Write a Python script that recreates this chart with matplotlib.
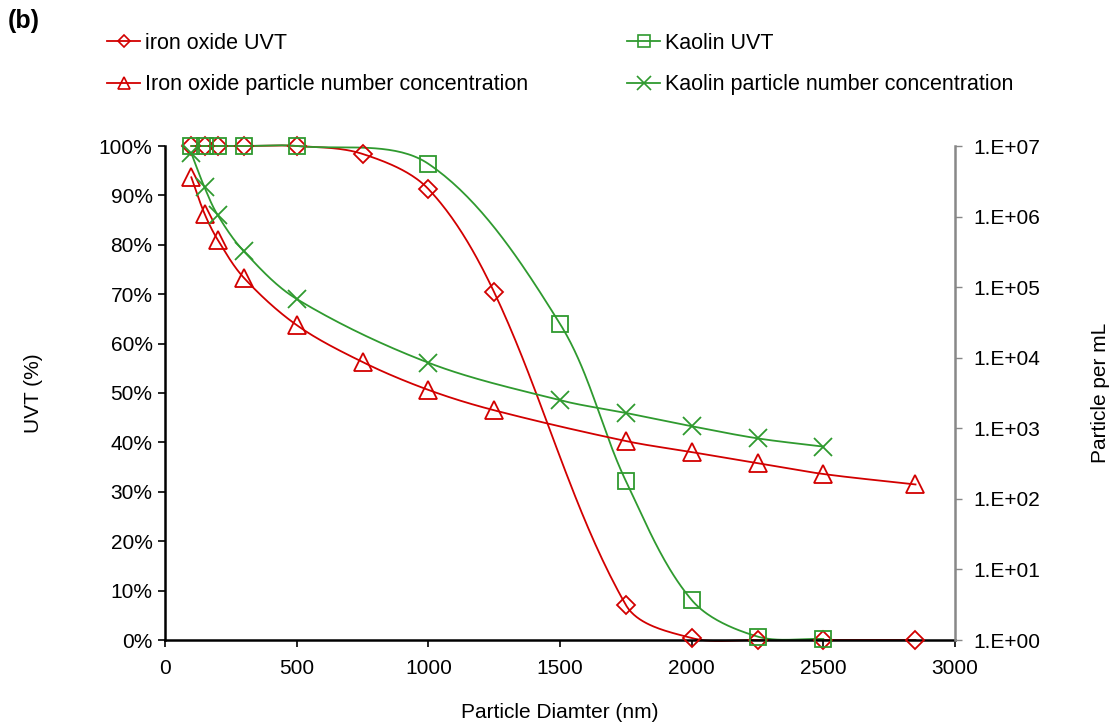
import matplotlib
matplotlib.use("Agg")
import matplotlib.pyplot as plt
import numpy as np
from matplotlib.lines import Line2D
from matplotlib.ticker import FuncFormatter, FixedLocator, NullLocator

# particle diameters (nm)
iron_uvt_diam = [100, 150, 200, 300, 500, 750, 1000, 1250, 1750, 2000, 2250, 2500, 2850]
iron_uvt = [100, 100, 100, 100, 100, 98.4, 91.3, 70.4, 7.1, 0.4, 0, 0, 0]

kaolin_uvt_diam = [100, 150, 200, 300, 500, 1000, 1500, 1750, 2000, 2250, 2500]
kaolin_uvt = [100, 100, 100, 100, 100, 96.4, 64.0, 32.2, 8.1, 0.7, 0.2]

# particle number concentration (particles per mL)
iron_pn_diam = [100, 150, 200, 300, 500, 750, 1000, 1250, 1750, 2000, 2250, 2500, 2850]
iron_pn = [3.6e6, 1.1e6, 4.7e5, 1.35e5, 2.9e4, 8.7e3, 3.5e3, 1.8e3, 660, 460, 320, 225, 160]

kaolin_pn_diam = [100, 150, 200, 300, 500, 1000, 1500, 1750, 2000, 2250, 2500]
kaolin_pn = [7.9e6, 2.6e6, 1.05e6, 3.2e5, 6.8e4, 8.5e3, 2.5e3, 1.65e3, 1.07e3, 720, 550]

x_ticks = [0, 500, 1000, 1500, 2000, 2500, 3000]
uvt_ticks = list(range(0, 101, 10))
pn_ticks = [10.0 ** k for k in range(0, 8)]

RED = "#D20000"
GREEN = "#2F9A2F"
FS = 15

plt.rcParams["font.family"] = "Liberation Sans"
plt.rcParams["font.size"] = FS


def smooth(axis, x, y, n=40):
    """Smoothed line through every point: cubic Bezier segments built in
    display space, control arms scaled by the neighbouring segment lengths."""
    pts = axis.transData.transform(np.column_stack([x, y]))
    p = np.vstack([pts[0], pts, pts[-1]])
    t = np.linspace(0, 1, n)[:, None]
    out = []
    for i in range(1, len(p) - 2):
        a, b, c, d = p[i - 1], p[i], p[i + 1], p[i + 2]
        d_ab = np.hypot(*(b - a))
        d_bc = np.hypot(*(c - b))
        d_cd = np.hypot(*(d - c))
        k1 = d_bc / (d_ab + d_bc) / 3 if d_ab + d_bc > 0 else 0
        k2 = d_bc / (d_bc + d_cd) / 3 if d_bc + d_cd > 0 else 0
        c0 = b + (c - a) * k1
        c1 = c - (d - b) * k2
        seg = ((1 - t) ** 3) * b + 3 * ((1 - t) ** 2) * t * c0 \
            + 3 * (1 - t) * t ** 2 * c1 + t ** 3 * c
        out.append(seg)
    out = axis.transData.inverted().transform(np.vstack(out))
    return out[:, 0], out[:, 1]


fig = plt.figure(figsize=(11.09, 7.26), dpi=100)
ax = fig.add_axes([165 / 1109, 1 - 640 / 726, 790 / 1109, 494 / 726])
ax2 = ax.twinx()

ax.set_xlim(0, 3000)
ax.set_ylim(0, 100)
ax2.set_yscale("log")
ax2.set_ylim(1, 1e7)

mk = dict(markerfacecolor="none", linestyle="none", clip_on=False, zorder=4)

# UVT curves on the left axis
sx, sy = smooth(ax, iron_uvt_diam, iron_uvt)
ax.plot(sx, sy, color=RED, lw=1.3, clip_on=False)
ax.plot(iron_uvt_diam, iron_uvt, marker="D", ms=8.8, markeredgecolor=RED, mew=1.3, **mk)

sx, sy = smooth(ax, kaolin_uvt_diam, kaolin_uvt)
ax.plot(sx, sy, color=GREEN, lw=1.3, clip_on=False)
ax.plot(kaolin_uvt_diam, kaolin_uvt, marker="s", ms=12, markeredgecolor=GREEN, mew=1.3, **mk)

# particle number curves on the log axis
sx, sy = smooth(ax2, iron_pn_diam, iron_pn)
ax2.plot(sx, sy, color=RED, lw=1.3)
ax2.plot(iron_pn_diam, iron_pn, marker="^", ms=12.5, markeredgecolor=RED, mew=1.3, **mk)

sx, sy = smooth(ax2, kaolin_pn_diam, kaolin_pn)
ax2.plot(sx, sy, color=GREEN, lw=1.3)
ax2.plot(kaolin_pn_diam, kaolin_pn, marker="x", ms=13, markeredgecolor=GREEN, mew=1.3, **mk)

ax.xaxis.set_major_locator(FixedLocator(x_ticks))
ax.yaxis.set_major_locator(FixedLocator(uvt_ticks))
ax.yaxis.set_major_formatter(FuncFormatter(lambda v, p: f"{v:.0f}%"))

ax2.yaxis.set_major_locator(FixedLocator(pn_ticks))
ax2.yaxis.set_minor_locator(NullLocator())
ax2.yaxis.set_major_formatter(FuncFormatter(lambda v, p: f"1.E+{int(round(np.log10(v))):02d}"))

for a in (ax, ax2):
    a.spines["top"].set_visible(False)
    a.set_facecolor("none")
ax.spines["right"].set_visible(False)
ax2.spines["left"].set_visible(False)
ax2.spines["bottom"].set_visible(False)
ax.spines["left"].set_linewidth(1.8)
ax.spines["bottom"].set_linewidth(1.8)
ax2.spines["right"].set_color("#888888")
ax2.spines["right"].set_linewidth(1.8)

ax.tick_params(axis="x", direction="out", length=5, width=1.2, labelsize=FS, pad=9)
ax.tick_params(axis="y", direction="out", length=5, width=1.2, labelsize=FS, pad=4)
ax2.tick_params(axis="y", direction="out", length=5, width=1.0, color="#888888",
                labelsize=FS, pad=8)

ax.set_xlabel("Particle Diamter (nm)", fontsize=FS, labelpad=18)
ax.set_ylabel("UVT (%)", fontsize=FS, labelpad=40)
ax2.set_ylabel("Particle per mL", fontsize=FS, labelpad=37)

# legend, two columns above the plot
h_iron = [Line2D([], [], color=RED, lw=1.3, marker="D", ms=6.5, mfc="none", mec=RED, mew=1.2),
          Line2D([], [], color=RED, lw=1.3, marker="^", ms=9, mfc="none", mec=RED, mew=1.2)]
h_kaolin = [Line2D([], [], color=GREEN, lw=1.3, marker="s", ms=9, mfc="none", mec=GREEN, mew=1.2),
            Line2D([], [], color=GREEN, lw=1.3, marker="x", ms=10, mfc="none", mec=GREEN, mew=1.2)]
leg_kw = dict(loc="upper left", frameon=False, fontsize=FS + 0.5, handlelength=1.55,
              handletextpad=0.2, labelspacing=0.95, borderaxespad=0, borderpad=0)
fig.legend(h_iron, ["iron oxide UVT", "Iron oxide particle number concentration"],
           bbox_to_anchor=(107 / 1109, 1 - 33 / 726), **leg_kw)
fig.legend(h_kaolin, ["Kaolin UVT", "Kaolin particle number concentration"],
           bbox_to_anchor=(627 / 1109, 1 - 33 / 726), **leg_kw)

fig.text(8 / 1109, 1 - 21 / 726, "(b)", fontsize=18, fontweight="bold", va="center", ha="left")

fig.savefig("out.png", dpi=100)
